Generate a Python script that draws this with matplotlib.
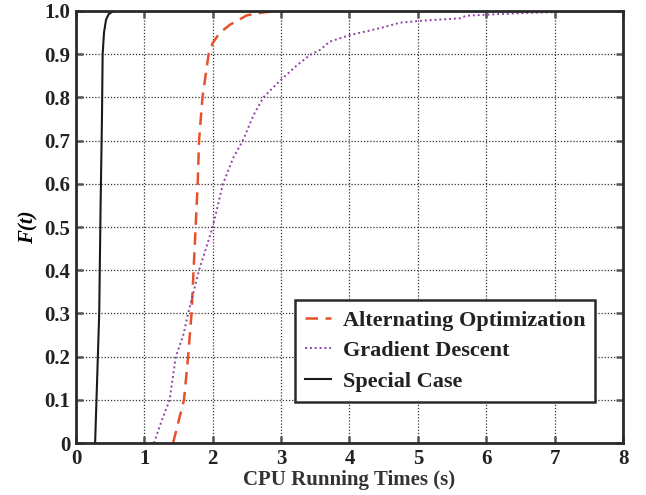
import numpy as np
import matplotlib
matplotlib.use("Agg")
import matplotlib.pyplot as plt

# CDF of CPU running times
special_x = [0.28, 0.30, 0.32, 0.34, 0.36, 0.38, 0.39, 0.41, 0.44, 0.48, 0.53, 0.58, 0.62]
special_y = [0.00, 0.10, 0.20, 0.30, 0.55, 0.75, 0.90, 0.95, 0.98, 0.993, 0.998, 1.00, 1.00]

alt_x = [1.42, 1.50, 1.58, 1.64, 1.69, 1.72, 1.75, 1.78, 1.80, 1.85, 1.94, 2.00, 2.10,
         2.25, 2.50, 2.75, 2.98]
alt_y = [0.00, 0.05, 0.10, 0.20, 0.30, 0.40, 0.50, 0.60, 0.70, 0.80, 0.90, 0.926, 0.949,
         0.968, 0.99, 0.997, 1.00]

grad_x = [1.14, 1.25, 1.37, 1.46, 1.57, 1.64, 1.80, 2.00, 2.15, 2.30, 2.44, 2.60, 2.74,
          2.98, 3.20, 3.42, 3.57, 3.71, 4.00, 4.44, 4.74, 5.10, 5.61, 5.71, 6.20, 6.68,
          7.20, 7.80]
grad_y = [0.00, 0.05, 0.10, 0.20, 0.25, 0.30, 0.40, 0.50, 0.60, 0.66, 0.70, 0.76, 0.80,
          0.838, 0.87, 0.898, 0.91, 0.929, 0.944, 0.96, 0.973, 0.978, 0.983, 0.989, 0.993,
          0.996, 0.998, 1.00]

x_ticks = [0, 1, 2, 3, 4, 5, 6, 7, 8]
y_ticks = [0, 0.1, 0.2, 0.3, 0.4, 0.5, 0.6, 0.7, 0.8, 0.9, 1.0]
y_tick_labels = ["0", "0.1", "0.2", "0.3", "0.4", "0.5", "0.6", "0.7", "0.8", "0.9", "1.0"]

plt.rcParams["font.family"] = ["Liberation Serif", "DejaVu Serif"]
plt.rcParams["font.weight"] = "bold"

fig = plt.figure(figsize=(6.46, 4.95), dpi=100)
ax = fig.add_axes([0.1176, 0.105, 0.8468, 0.8728])

ax.plot(alt_x, alt_y, color="#E5522B", linestyle=(0, (5, 3)), linewidth=1.8,
        label="Alternating Optimization")
ax.plot(grad_x, grad_y, color="#9440A8", linestyle=(0, (1, 1.5)), linewidth=1.4,
        label="Gradient Descent")
ax.plot(special_x, special_y, color="#1a1a1a", linestyle="-", linewidth=1.5,
        label="Special Case")

ax.set_xlim(0, 8)
ax.set_ylim(0, 1)
ax.set_xticks(x_ticks)
ax.set_yticks(y_ticks)
ax.set_yticklabels(y_tick_labels)
ax.grid(True, color="#333333", linestyle=(0, (1, 1.5)), linewidth=0.9)
ax.tick_params(direction="in", top=True, right=True, length=5, width=1.8,
               color="#555555", labelsize=15, pad=4)
for lab in ax.get_xticklabels() + ax.get_yticklabels():
    lab.set_fontweight("bold")
    lab.set_color("#222222")
for sp in ax.spines.values():
    sp.set_linewidth(2)
    sp.set_color("#2a2a2a")

ax.set_xlabel("CPU Running Times (s)", fontsize=15, fontweight="bold", color="#333333",
              labelpad=1)
ax.set_ylabel("F(t)", fontsize=15, fontweight="bold", fontstyle="italic", labelpad=4)

leg = ax.legend(loc="upper right", bbox_to_anchor=(0.949, 0.331), borderaxespad=0,
                fontsize=16, frameon=True, fancybox=False,
                handlelength=1.2, borderpad=0.45, labelspacing=0.45, handletextpad=0.5)
leg.get_frame().set_edgecolor("#2a2a2a")
leg.get_frame().set_linewidth(1.8)
leg.get_frame().set_alpha(1)
for t in leg.get_texts():
    t.set_color("#222222")

fig.savefig("out.png", dpi=100)
